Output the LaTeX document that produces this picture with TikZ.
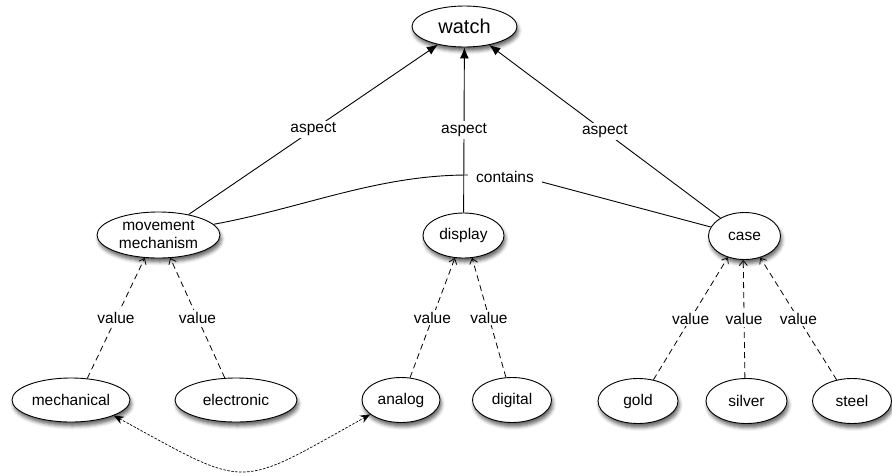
\documentclass[tikz,border=0pt]{standalone}
\usepackage{fontspec}
\setmainfont{Liberation Sans}
\usetikzlibrary{arrows.meta,shapes.geometric,shadows.blur}

\begin{document}
\begin{tikzpicture}[x=1pt,y=-1pt,
  concept/.style={ellipse, draw, line width=0.9pt, fill=white, inner sep=0pt,
    font=\fontsize{15.5}{18}\selectfont, align=center,
    blur shadow={shadow xshift=1.5pt, shadow yshift=-4pt, shadow blur radius=3.5pt, shadow opacity=60}},
  lbl/.style={fill=white, inner sep=2pt, font=\fontsize{15.5}{18}\selectfont},
  aspectedge/.style={line width=0.9pt, -{Latex[length=11pt,width=9pt]}},
  valueedge/.style={line width=0.8pt, dash pattern=on 6pt off 4pt, -{Straight Barb[length=5pt,width=8pt]}},
  linkedge/.style={line width=0.7pt, dash pattern=on 2.5pt off 1.5pt,
    {Stealth[length=10pt,width=8pt]}-{Stealth[length=10pt,width=8pt]}},
]
\useasboundingbox (0,0) rectangle (892,475);

% concepts
\node[concept, minimum width=105pt, minimum height=41pt, font=\fontsize{20}{22}\selectfont] (watch) at (464.5,26.5) {watch};
\node[concept, minimum width=123pt, minimum height=46pt] (mm) at (158.5,235) {movement\\mechanism};
\node[concept, minimum width=81pt, minimum height=45pt] (display) at (463.5,235.5) {display};
\node[concept, minimum width=72pt, minimum height=47pt] (case) at (744.5,236) {case};

\node[concept, minimum width=118pt, minimum height=44pt] (mechanical) at (71,400) {mechanical};
\node[concept, minimum width=122pt, minimum height=44pt] (electronic) at (236,400) {electronic};
\node[concept, minimum width=78pt, minimum height=45pt] (analog) at (401,400) {analog};
\node[concept, minimum width=79pt, minimum height=45pt] (digital) at (512,400) {digital};
\node[concept, minimum width=80pt, minimum height=45pt] (gold) at (638,401) {gold};
\node[concept, minimum width=81pt, minimum height=45pt] (silver) at (746.5,401) {silver};
\node[concept, minimum width=79pt, minimum height=45pt] (steel) at (852,401) {steel};

% aspect links
\draw[aspectedge] (mm) -- node[lbl] {aspect} (watch);
\draw[aspectedge] (display) -- node[lbl] {aspect} (watch);
\draw[aspectedge] (case) -- node[lbl] {aspect} (watch);

% contains relation
\node[font=\fontsize{15.5}{18}\selectfont, inner xsep=8pt, inner ysep=2pt] (cont) at (505,177) {contains};
\draw[line width=0.9pt] (mm.11) .. controls (303,208) and (377,175) .. ([yshift=2pt]cont.west);
\draw[line width=0.9pt] ([yshift=-5pt]cont.east) -- (case);

% value links
\draw[valueedge] (mechanical.53) -- node[lbl] {value} (mm.239);
\draw[valueedge] (electronic.117) -- node[lbl] {value} (mm.297);
\draw[valueedge] (analog.68) -- node[lbl] {value} (display.249);
\draw[valueedge] (digital.105) -- node[lbl] {value} (display.291);
\draw[valueedge] (gold.54) -- node[lbl] {value} (case.232);
\draw[valueedge] (silver.94) -- node[lbl] {value} (case.267);
\draw[valueedge] (steel.126) -- node[lbl] {value} (case.306);

% dotted link between mechanical and analog
\draw[linkedge] (mechanical.-20) .. controls (250,490) and (235,490) .. (analog.205);
\end{tikzpicture}
\end{document}
